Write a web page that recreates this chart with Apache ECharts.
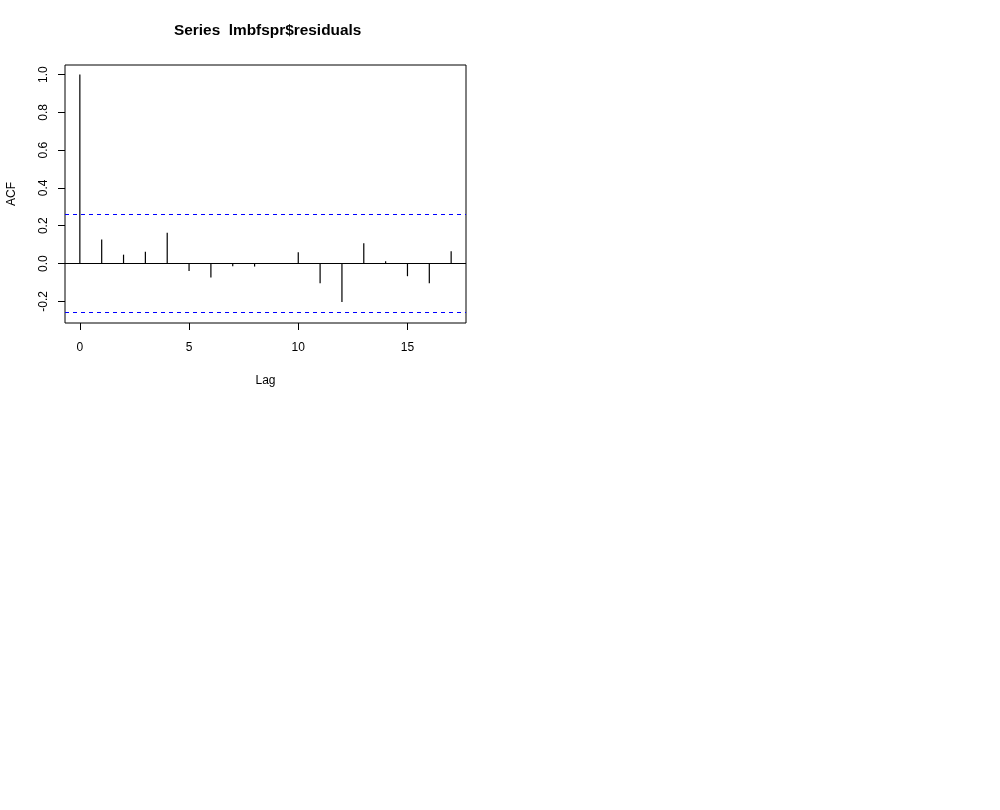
<!DOCTYPE html>
<html>
<head>
<meta charset="utf-8">
<script src="https://cdn.jsdelivr.net/npm/echarts@6/dist/echarts.min.js"></script>
<style>
  html, body { margin: 0; padding: 0; background: #fff; }
  #main { width: 1000px; height: 810px; }
</style>
</head>
<body>
<div id="main"></div>
<script>
var lags = [0, 1, 2, 3, 4, 5, 6, 7, 8, 9, 10, 11, 12, 13, 14, 15, 16, 17];
var acfValues = [1.0, 0.127, 0.047, 0.063, 0.163, -0.040, -0.074, -0.014, -0.016, 0.002,
  0.060, -0.104, -0.204, 0.107, 0.012, -0.067, -0.104, 0.065];
var ciBound = 0.264;
var xTicks = [0, 5, 10, 15];
var yTicks = [-0.2, 0, 0.2, 0.4, 0.6, 0.8, 1.0];

var chartDom = document.getElementById('main');
var myChart = echarts.init(chartDom);
var option;

var font = 'Liberation Sans, Arial, sans-serif';

option = {
  animation: false,
  title: {
    text: 'Series  lmbfspr$residuals',
    left: 169,
    top: 18,
    textStyle: { fontFamily: font, fontSize: 15.4, fontWeight: 'bold', color: '#000' }
  },
  grid: {
    left: 65,
    top: 65,
    width: 401,
    height: 258,
    show: true,
    borderColor: '#000',
    borderWidth: 1,
    backgroundColor: 'transparent'
  },
  xAxis: {
    type: 'value',
    min: -0.68,
    max: 17.68,
    name: 'Lag',
    nameLocation: 'middle',
    nameGap: 52,
    nameTextStyle: { fontFamily: font, fontSize: 12, color: '#000' },
    axisLine: { show: false, onZero: false },
    splitLine: { show: false },
    axisTick: { show: true, inside: false, length: 7, customValues: xTicks, lineStyle: { color: '#000' } },
    axisLabel: { customValues: xTicks, margin: 19, fontFamily: font, fontSize: 12, color: '#000' }
  },
  yAxis: {
    type: 'value',
    min: -0.3146,
    max: 1.0506,
    name: 'ACF',
    nameLocation: 'middle',
    nameGap: 47,
    nameTextStyle: { fontFamily: font, fontSize: 12, color: '#000' },
    axisLine: { show: false, onZero: false },
    splitLine: { show: false },
    axisTick: { show: true, inside: false, length: 7, customValues: yTicks, lineStyle: { color: '#000' } },
    axisLabel: {
      customValues: yTicks,
      rotate: 90,
      margin: 15,
      fontFamily: font,
      fontSize: 12,
      color: '#000',
      formatter: function (v) { return v.toFixed(1); }
    }
  },
  series: [
    {
      type: 'custom',
      data: lags.map(function (l, i) { return [l, acfValues[i]]; }),
      renderItem: function (params, api) {
        var p0 = api.coord([api.value(0), 0]);
        var p1 = api.coord([api.value(0), api.value(1)]);
        return {
          type: 'line',
          shape: { x1: p0[0], y1: p0[1], x2: p1[0], y2: p1[1] },
          style: { stroke: '#000', lineWidth: 1.2 }
        };
      },
      markLine: {
        symbol: 'none',
        silent: true,
        label: { show: false },
        data: [
          { yAxis: 0, lineStyle: { color: '#000', type: 'solid', width: 1 } },
          { yAxis: ciBound, lineStyle: { color: '#0000ff', type: [4, 4], width: 1 } },
          { yAxis: -ciBound, lineStyle: { color: '#0000ff', type: [4, 4], width: 1 } }
        ]
      }
    }
  ]
};

option && myChart.setOption(option);
</script>
</body>
</html>
